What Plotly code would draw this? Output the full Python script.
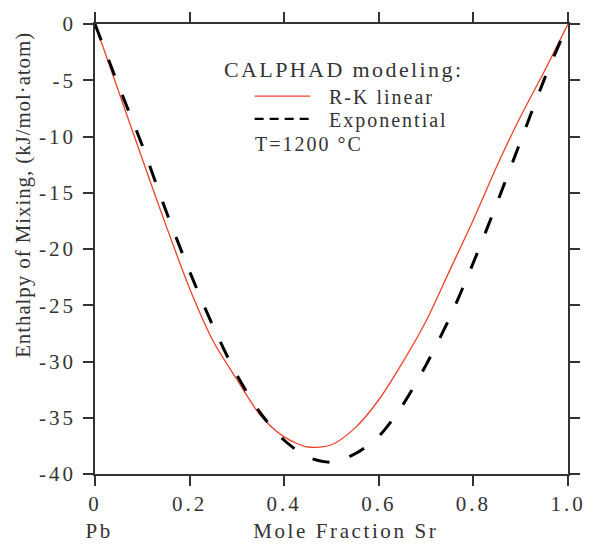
import plotly.graph_objects as go

# Mole fraction of Sr
x_frac = [0.00, 0.05, 0.10, 0.15, 0.20, 0.25, 0.30, 0.35, 0.40, 0.45, 0.50,
          0.55, 0.60, 0.65, 0.70, 0.75, 0.80, 0.85, 0.90, 0.95, 1.00]
# Enthalpy of mixing, kJ/mol·atom
h_rk_linear = [0.0, -6.0, -12.0, -17.9, -23.5, -28.2, -31.6, -34.8, -36.7, -37.6, -37.4,
               -35.9, -33.4, -30.1, -26.4, -21.9, -17.4, -12.6, -8.2, -4.2, 0.0]
h_exponential = [0.0, -5.5, -10.8, -16.6, -22.0, -26.9, -31.2, -34.6, -37.0, -38.5, -38.95,
                 -38.2, -36.65, -33.9, -30.3, -26.1, -21.2, -15.9, -10.4, -4.9, 0.0]

x_tickvals = [0, 0.2, 0.4, 0.6, 0.8, 1.0]
x_ticktext = ["0", "0.2", "0.4", "0.6", "0.8", "1.0"]
y_tickvals = [0, -5, -10, -15, -20, -25, -30, -35, -40]
y_ticktext = ["0", "-5", "-10", "-15", "-20", "-25", "-30", "-35", "-40"]

series_names = ["R-K linear", "Exponential"]
legend_title = "CALPHAD modeling:"
temp_label = "T=1200 °C"
x_title = "Mole Fraction Sr"
y_title = "Enthalpy of Mixing, (kJ/mol·atom)"
end_labels = ["Pb", "Sr"]

FONT = "Liberation Serif, Times New Roman, serif"
RED = "#f0412c"
AX = "#333333"

fig = go.Figure()
fig.add_trace(go.Scatter(x=x_frac, y=h_rk_linear, mode="lines", name=series_names[0],
                         line=dict(color=RED, width=1.3, shape="spline", smoothing=0.8),
                         showlegend=False))
fig.add_trace(go.Scatter(x=x_frac, y=h_exponential, mode="lines", name=series_names[1],
                         line=dict(color="black", width=3, dash="17px,21px", shape="spline", smoothing=0.8),
                         showlegend=False))

axis_common = dict(showline=True, linecolor=AX, linewidth=1.5, mirror="ticks",
                   ticks="outside", ticklen=10, tickwidth=1.5, tickcolor=AX,
                   showgrid=False, zeroline=False,
                   tickfont=dict(family=FONT, size=21, color=AX))

fig.update_xaxes(range=[0, 1], tickvals=x_tickvals, ticktext=x_ticktext,
                 ticklabelstandoff=0, **axis_common)
fig.update_yaxes(range=[-40, 0], tickvals=y_tickvals, ticktext=y_ticktext,
                 ticklabelstandoff=3, **axis_common)

# legend drawn as text + sample lines (positions in data coordinates of the box)
fig.add_shape(type="line", xref="x", yref="y", x0=0.3375, x1=0.455, y0=-6.42, y1=-6.42,
              line=dict(color=RED, width=1.3))
fig.add_shape(type="line", xref="x", yref="y", x0=0.3375, x1=0.455, y0=-8.44, y1=-8.44,
              line=dict(color="black", width=2.2, dash="9px,6px"))

ann = [
    dict(text=legend_title, x=0.268, y=-4.04, size=22),
    dict(text=series_names[0], x=0.4906, y=-6.5, size=20),
    dict(text=series_names[1], x=0.4906, y=-8.6, size=20),
    dict(text=temp_label, x=0.335, y=-10.64, size=20),
]
for a in ann:
    fig.add_annotation(text=a["text"], x=a["x"], y=a["y"], xref="x", yref="y",
                       xanchor="left", yanchor="middle", align="left", showarrow=False,
                       font=dict(family=FONT, size=a["size"], color=AX))

fig.add_annotation(text=y_title, x=-0.151, y=0.619, xref="paper", yref="paper",
                   textangle=-90, xanchor="center", yanchor="middle", showarrow=False,
                   font=dict(family=FONT, size=21, color=AX))
fig.add_annotation(text=end_labels[0], x=0.008, y=-0.127, xref="x", yref="paper",
                   xanchor="center", yanchor="middle", showarrow=False,
                   font=dict(family=FONT, size=21, color=AX))
fig.add_annotation(text=x_title, x=0.53, y=-0.127, xref="x", yref="paper",
                   xanchor="center", yanchor="middle", showarrow=False,
                   font=dict(family=FONT, size=21, color=AX))
fig.add_annotation(text=end_labels[1], x=1.012, y=-0.127, xref="x", yref="paper",
                   xanchor="center", yanchor="middle", showarrow=False,
                   font=dict(family=FONT, size=21, color=AX))

fig.update_layout(width=593, height=544, margin=dict(l=95, r=21, t=19, b=70),
                  plot_bgcolor="white", paper_bgcolor="white", showlegend=False,
                  font=dict(family=FONT, color=AX))

post = """
document.documentElement.style.margin = '0';
document.documentElement.style.padding = '0';
document.body.style.margin = '0';
document.body.style.padding = '0';
document.body.style.overflow = 'hidden';
var gd = document.getElementById('{plot_id}');
function ls(sel, v){ gd.querySelectorAll(sel).forEach(function(t){ t.style.letterSpacing = v; }); }
ls('.xtick text', '3px');
ls('.ytick text', '3px');
var sp = ['2.4px','2px','2px','2px','0.9px','2.6px','2.6px','2.6px'];
sp.forEach(function(v, i){ ls('.annotation[data-index="' + i + '"] text', v); });
"""

fig.write_html("out.html", post_script=post, config={"displayModeBar": False})
